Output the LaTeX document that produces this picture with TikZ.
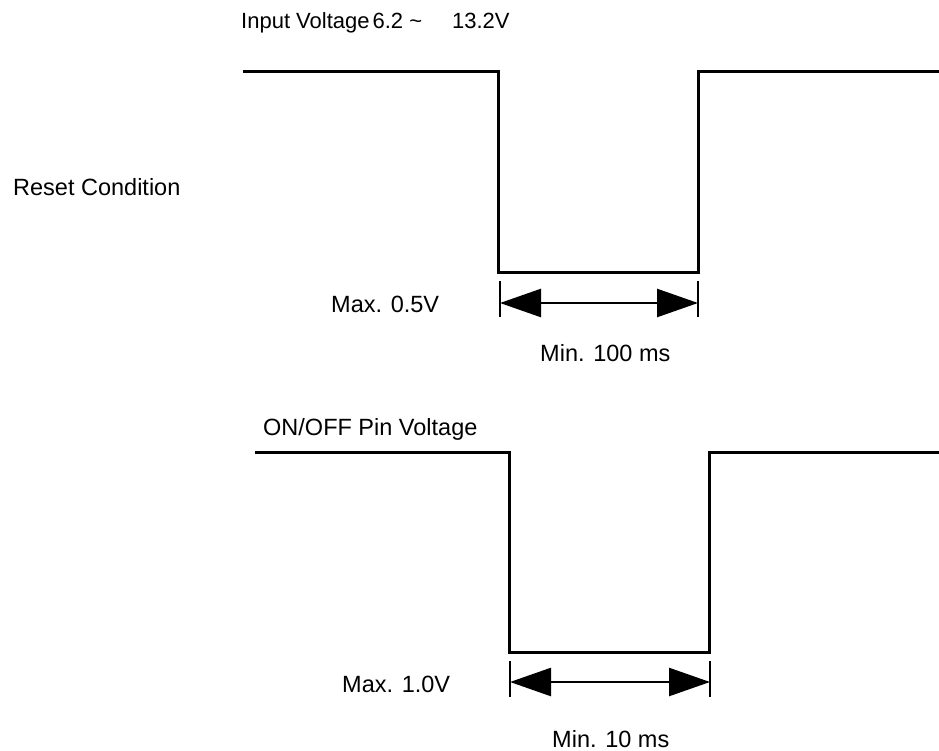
\documentclass[tikz,border=0pt]{standalone}
\usepackage{fontspec}
\setmainfont{Liberation Sans}
\usetikzlibrary{arrows.meta}
\begin{document}
\begin{tikzpicture}[x=1pt,y=-1pt,
  wave/.style={line width=3pt, line join=miter},
  tickline/.style={line width=2.5pt},
  dimarrow/.style={line width=2.5pt, {Triangle[length=41pt,width=28pt]}-{Triangle[length=41pt,width=28pt]}},
  lbl/.style={anchor=base west, inner sep=0pt, font=\fontsize{23.5}{28}\selectfont}]
\useasboundingbox (0,0) rectangle (939,751);
% top waveform
\coordinate (t0) at (243,72);
\coordinate (t1) at (498,72);
\coordinate (t2) at (498,272);
\coordinate (t3) at (698,272);
\coordinate (t4) at (698,72);
\coordinate (t5) at (939,72);
\draw[wave] (t0) -- (t1) -- (t2) -- (t3) -- (t4) -- (t5);
\coordinate (ta) at (500,281);
\coordinate (tb) at (500,317);
\coordinate (tc) at (698,281);
\coordinate (td) at (698,317);
\draw[tickline] (ta) -- (tb);
\draw[tickline] (tc) -- (td);
\coordinate (tl) at (500,303);
\coordinate (tr) at (698,303);
\draw[dimarrow] (tl) -- (tr);
% bottom waveform
\coordinate (b0) at (255,452);
\coordinate (b1) at (509,452);
\coordinate (b2) at (509,652);
\coordinate (b3) at (709,652);
\coordinate (b4) at (709,452);
\coordinate (b5) at (939,452);
\draw[wave] (b0) -- (b1) -- (b2) -- (b3) -- (b4) -- (b5);
\coordinate (ba) at (510,661);
\coordinate (bb) at (510,697);
\coordinate (bc) at (710,661);
\coordinate (bd) at (710,697);
\draw[tickline] (ba) -- (bb);
\draw[tickline] (bc) -- (bd);
\coordinate (bl) at (510,682);
\coordinate (br) at (710,682);
\draw[dimarrow] (bl) -- (br);
% labels
\node[lbl, font=\fontsize{22}{26}\selectfont] (input) at (241,29) {Input Voltage\hspace{3pt}6.2 \textasciitilde\hspace{30pt}13.2V};
\node[lbl] (reset) at (13,196) {Reset Condition};
\node[lbl] (max1) at (331,312) {Max. 0.5V};
\node[lbl] (min1) at (540,361) {Min. 100 ms};
\node[lbl] (onoff) at (263,435) {ON/OFF Pin Voltage};
\node[lbl] (max2) at (342,692) {Max. 1.0V};
\node[lbl] (min2) at (552,747) {Min. 10 ms};
\end{tikzpicture}
\end{document}
